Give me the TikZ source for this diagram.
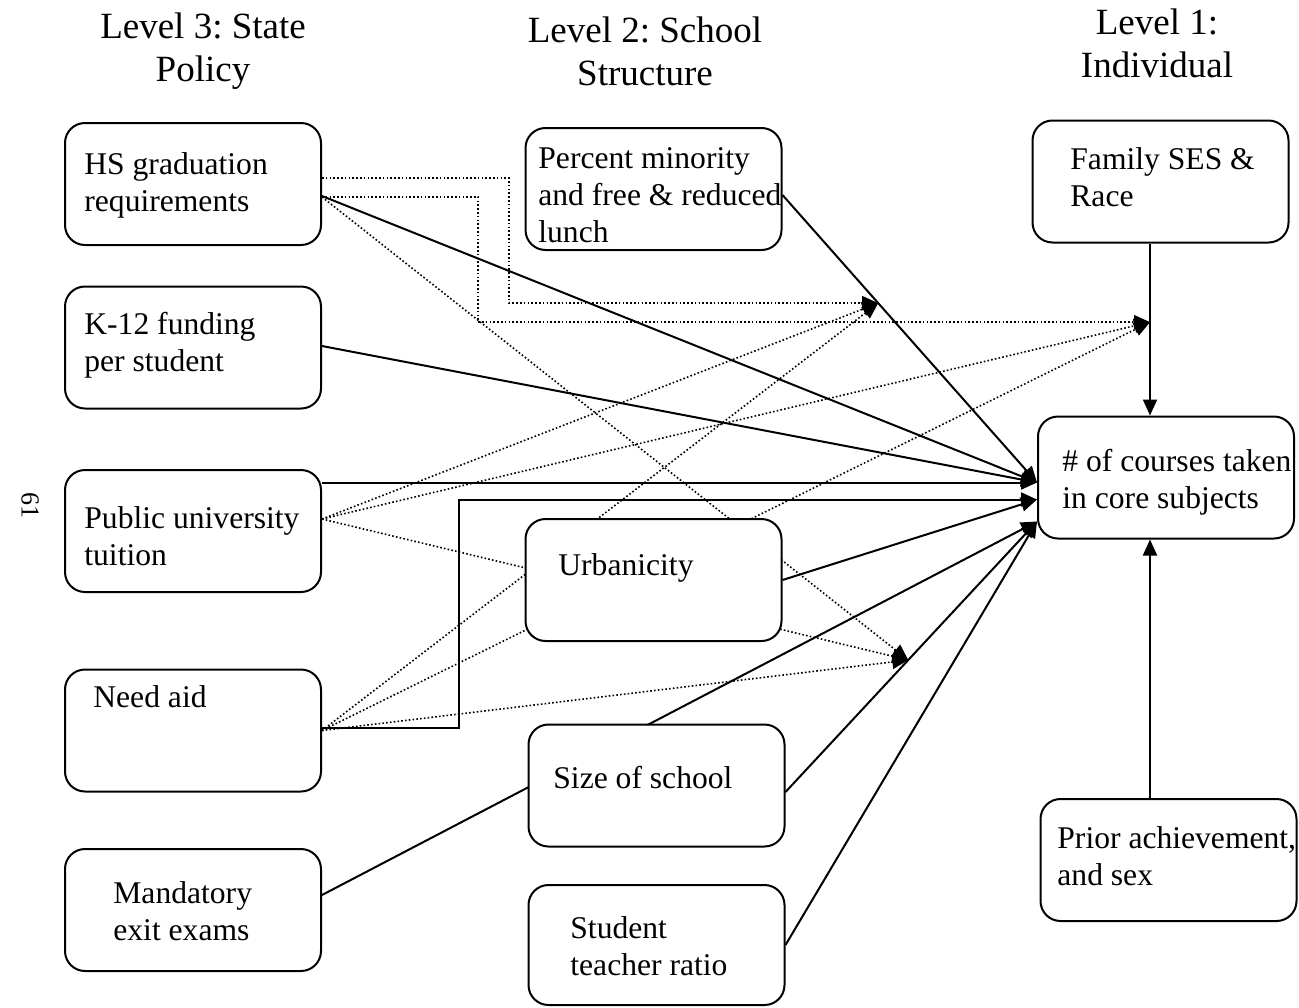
\documentclass[tikz,border=0pt]{standalone}
\usepackage{fontspec}
\setmainfont{Liberation Serif}
\frenchspacing
\usetikzlibrary{arrows.meta,calc,backgrounds}
\tikzset{
  box/.style={draw,rounded corners=10pt,line width=1pt,fill=white,minimum width=128pt,minimum height=61pt,inner sep=0pt},
  txt/.style={anchor=west,align=left,inner sep=0pt,font=\fontsize{15.8}{18.5}\selectfont},
  lvl/.style={align=center,inner sep=0pt,font=\fontsize{18.5}{21.5}\selectfont},
  eff/.style={line width=1pt,-{Triangle[length=8pt,width=7pt]}},
  mod/.style={line width=0.8pt,dash pattern=on 0.8pt off 1.1pt,-{Triangle[length=8pt,width=7pt]}},
}
\begin{document}
\begin{tikzpicture}[x=0.5pt,y=-0.5pt,line join=round]
  \useasboundingbox (0,0) rectangle (1299,1007);
  % level headings
  \node[lvl] (lev3) at (203,51.5) {Level 3: State\\Policy};
  \node[lvl] (lev2) at (645,51.5) {Level 2: School\\Structure};
  \node[lvl] (lev1) at (1157,43.5) {Level 1:\\Individual};
  \node[rotate=-90,inner sep=0pt,font=\fontsize{13}{15}\selectfont] (page) at (30,505) {61};
  % level 3
  \node[box] (hs) at (193,184) {};
  \node[box] (k12) at (193,347.5) {};
  \node[box] (pub) at (193,531) {};
  \node[box] (need) at (193,730.5) {};
  \node[box] (exam) at (193,910) {};
  % level 2
  \node[box] (pct) at (653.5,189) {};
  \node[box] (urb) at (653.5,580) {};
  \node[box] (size) at (656.5,785.5) {};
  \node[box,minimum height=60pt] (ratio) at (656.5,945) {};
  % level 1
  \node[box] (ses) at (1160.5,181.5) {};
  \node[box] (out) at (1166,477.5) {};
  \node[box] (prior) at (1168.5,860) {};
  % box texts
  \node[txt] (hst) at (84,185.5) {HS graduation\\requirements};
  \node[txt] (k12t) at (84,345.5) {K-12 funding\\per student};
  \node[txt] (pubt) at (84,536) {Public university\\tuition};
  \node[txt] (needt) at (93,697) {Need aid};
  \node[txt] (examt) at (113,911.5) {Mandatory\\exit exams};
  \node[txt] (pctt) at (538,195) {Percent minority\\and free \& reduced\\lunch};
  \node[txt] (urbt) at (558,568) {Urbanicity};
  \node[txt] (sizet) at (553,778) {Size of school};
  \node[txt] (ratiot) at (570,946.5) {Student\\teacher ratio};
  \node[txt] (sest) at (1070,177.5) {Family SES \&\\Race};
  \node[txt] (outt) at (1062,482.5) {\# of courses taken\\in core subjects};
  \node[txt] (priort) at (1057,856.5) {Prior achievement,\\and sex};
  % end points
  \coordinate (e1) at ($(out.west)+(0,5)$);
  \coordinate (e2) at ($(out.west)+(0,22)$);
  \coordinate (e3) at ($(out.west)+(0,44)$);
  \coordinate (pcts) at ($(pct.east)+(0,6)$);
  \coordinate (sizes) at ($(size.east)+(0,6.5)$);
  \coordinate (ps) at ($(ses.south)+(-10.5,0)$);
  \coordinate (pp) at ($(prior.north)+(-18.5,0)$);
  \coordinate (m1) at ($(pcts)!0.376!(e1)$);
  \coordinate (m2) at ($(ps)!0.457!(ps |- out.north)$);
  \coordinate (m3) at ($(sizes)!0.488!(e3)$);
  \begin{scope}[on background layer]
    % direct effects
    \draw[eff] (pcts) -- (e1);
    \draw[eff] ($(hs.east)+(0,12)$) -- (e1);
    \draw[eff] ($(k12.east)+(0,-1.5)$) -- (e1);
    \draw[eff] (pub.east |- e1) -- (e1);
    \draw[eff] ($(need.east)+(0,-3)$) -- ++(137,0) |- (e2);
    \draw[eff] (urb.east) -- (e2);
    \draw[eff] ($(exam.east)+(0,-15)$) -- (e3);
    \draw[eff] (sizes) -- (e3);
    \draw[eff] (ratio.east) -- (e3);
    \draw[eff] (ps) -- (ps |- out.north);
    \draw[eff] (pp) -- (pp |- out.south);
    % cross-level moderation
    \draw[mod] ($(hs.east)+(0,-6)$) -- ++(187,0) |- (m1);
    \draw[mod] ($(hs.east)+(0,13)$) -- ++(156,0) |- (m2);
    \draw[mod] ($(hs.east)+(0,13)$) -- (m3);
    \draw[mod] ($(pub.east)+(0,-12)$) -- (m1);
    \draw[mod] ($(pub.east)+(0,-12)$) -- (m2);
    \draw[mod] ($(pub.east)+(0,-12)$) -- (m3);
    \draw[mod] (need.east) -- (m1);
    \draw[mod] (need.east) -- (m2);
    \draw[mod] (need.east) -- (m3);
  \end{scope}
\end{tikzpicture}
\end{document}
